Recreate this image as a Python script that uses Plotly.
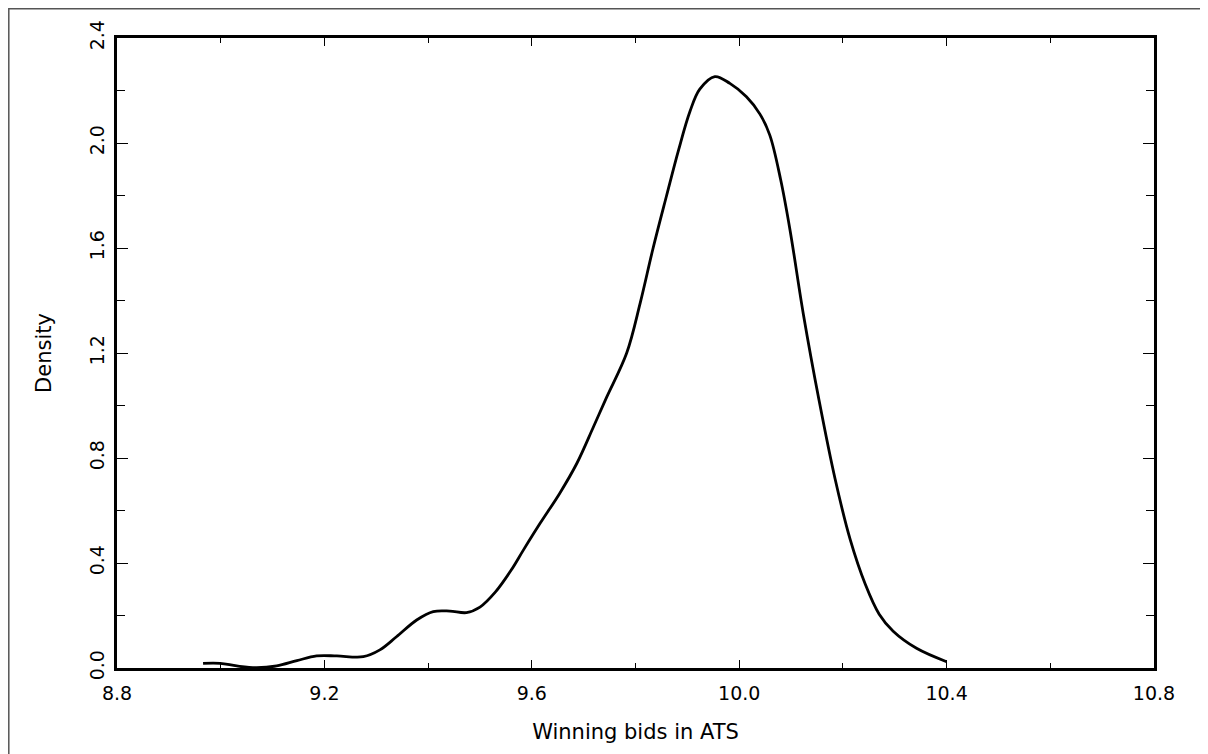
import plotly.graph_objects as go

bid = [8.966, 8.999, 9.031, 9.069, 9.108, 9.147, 9.185, 9.224, 9.275, 9.307,
       9.339, 9.378, 9.410, 9.442, 9.474, 9.500, 9.530, 9.560, 9.584, 9.616,
       9.654, 9.687, 9.719, 9.744, 9.783, 9.809, 9.834, 9.860, 9.883, 9.905,
       9.924, 9.953, 9.982, 10.014, 10.040, 10.059, 10.080, 10.098, 10.124,
       10.154, 10.185, 10.214, 10.243, 10.270, 10.297, 10.342, 10.400]
density = [0.018, 0.018, 0.008, 0.001, 0.008, 0.028, 0.046, 0.046, 0.043, 0.069,
           0.119, 0.183, 0.215, 0.217, 0.211, 0.232, 0.290, 0.372, 0.450, 0.551,
           0.666, 0.780, 0.919, 1.030, 1.200, 1.390, 1.600, 1.800, 1.973, 2.120,
           2.205, 2.253, 2.227, 2.176, 2.110, 2.030, 1.860, 1.669, 1.345,
           1.020, 0.720, 0.490, 0.320, 0.205, 0.140, 0.075, 0.024]

x_ticks = [8.8, 9.2, 9.6, 10.0, 10.4, 10.8]
y_ticks = [0.0, 0.4, 0.8, 1.2, 1.6, 2.0, 2.4]

FONT = "DejaVu Sans"

fig = go.Figure()
fig.add_trace(go.Scatter(x=bid, y=density, mode="lines",
                         line=dict(color="black", width=2.8, shape="spline", smoothing=1.0),
                         showlegend=False, hoverinfo="skip"))

axis_common = dict(showline=True, linecolor="black", linewidth=2.5, mirror="ticks",
                   ticks="inside", tickcolor="black", tickwidth=1, showgrid=False,
                   zeroline=False, tickfont=dict(family=FONT, size=19, color="black"))

fig.update_xaxes(range=[8.8, 10.8], tickvals=x_ticks,
                 ticktext=[f"{v:.1f}" for v in x_ticks], ticklen=8, ticklabelstandoff=6,
                 minor=dict(dtick=0.2, tick0=8.8, ticks="inside", ticklen=5,
                            tickcolor="black", tickwidth=1, showgrid=False),
                 title=dict(text="Winning bids in ATS", font=dict(family=FONT, size=21, color="black"),
                            standoff=22),
                 **axis_common)
fig.update_yaxes(range=[0, 2.4], tickvals=y_ticks,
                 ticktext=[f"{v:.1f}" for v in y_ticks], ticklen=11, tickangle=-90,
                 ticklabelstandoff=3,
                 minor=dict(dtick=0.2, tick0=0, ticks="inside", ticklen=8,
                            tickcolor="black", tickwidth=1, showgrid=False),
                 title=dict(text="Density", font=dict(family=FONT, size=21, color="black"),
                            standoff=29),
                 **axis_common)

fig.add_shape(type="rect", xref="paper", yref="paper",
              x0=(8.8 - 117) / 1037, x1=(1240 - 117) / 1037,
              y0=(668 - 790) / 630, y1=(668 - 8.8) / 630,
              line=dict(color="#555555", width=1.5), layer="below")

fig.update_layout(width=1208, height=754, plot_bgcolor="white", paper_bgcolor="white",
                  margin=dict(l=109, r=62, t=30, b=94),
                  font=dict(family=FONT, color="black"))

fig.write_html("out.html")
